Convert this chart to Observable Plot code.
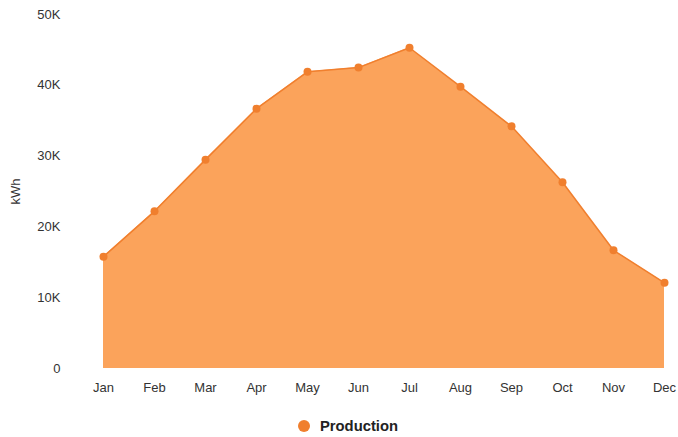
<!DOCTYPE html>
<html><head><meta charset="utf-8">
<script src="https://cdn.jsdelivr.net/npm/d3@7"></script>
<script src="https://cdn.jsdelivr.net/npm/@observablehq/plot@0.6"></script>
<style>
body{margin:0;background:#fff;font-family:"Liberation Sans",Arial,sans-serif;overflow:hidden;}
#legend{display:flex;justify-content:center;align-items:center;height:22px;padding-top:10px;margin-left:18px;font-weight:bold;font-size:14.8px;color:#222;}
#legend span.dot{display:inline-block;width:12px;height:12px;border-radius:50%;background:#f07f2e;margin-right:10px;}
</style></head>
<body>
<div id="chart"></div>
<div id="legend"><span class="dot"></span>Production</div>
<script>
const months = ["Jan","Feb","Mar","Apr","May","Jun","Jul","Aug","Sep","Oct","Nov","Dec"];
const production = [15800,22200,29500,36700,41900,42500,45300,39800,34200,26300,16700,12100];
const yTicks = [0,10000,20000,30000,40000,50000];
const yTickLabels = ["0","10K","20K","30K","40K","50K"];

const data = months.map((m,i)=>({month:m, value:production[i]}));

const chart = Plot.plot({
  width:678, height:405,
  marginTop:14, marginBottom:37, marginLeft:98, marginRight:10,
  style:{fontFamily:"'Liberation Sans', Arial, sans-serif", fontSize:"13px", color:"#333"},
  x:{type:"point", domain:months, padding:0, range:[98,668]},
  y:{domain:[0,50000]},
  marks:[
    Plot.areaY(data,{x:"month", y:"value", fill:"#fba35b"}),
    Plot.lineY(data,{x:"month", y:"value", stroke:"#f07f2e", strokeWidth:1.5}),
    Plot.dot(data,{x:"month", y:"value", fill:"#f07f2e", r:4}),
    Plot.axisY({ticks:yTicks, tickFormat:(d)=>yTickLabels[yTicks.indexOf(d)], tickSize:0, tickPadding:38,
      label:"kWh", labelAnchor:"center", labelArrow:"none", labelOffset:88, fill:"#333"}),
    Plot.axisX({tickSize:0, tickPadding:14, label:null, fill:"#333"})
  ]
});
document.getElementById("chart").appendChild(chart);
</script>
</body></html>
